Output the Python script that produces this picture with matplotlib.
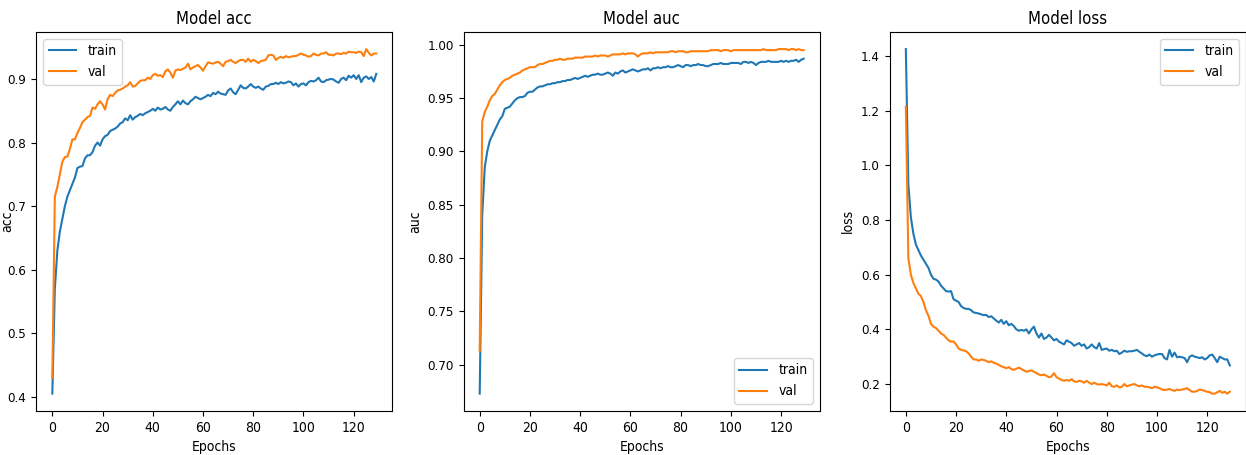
import matplotlib
matplotlib.use("Agg")
import matplotlib.pyplot as plt
import numpy as np

# reference text looks horizontally squeezed
plt.rcParams['font.family'] = 'DejaVu Sans'
plt.rcParams['font.stretch'] = 'condensed'

# values, one per epoch (0..129)
acc_train = [
    0.405, 0.57, 0.63, 0.66, 0.68, 0.70, 0.715, 0.725, 0.735, 0.745,
    0.76, 0.762, 0.763, 0.775, 0.78, 0.78, 0.785, 0.795, 0.80, 0.795,
    0.805, 0.81, 0.812, 0.818, 0.82, 0.822, 0.825, 0.83, 0.832, 0.838,
    0.835, 0.843, 0.836, 0.84, 0.842, 0.845, 0.843, 0.846, 0.848, 0.85,
    0.853, 0.85, 0.855, 0.852, 0.853, 0.856, 0.852, 0.85, 0.856, 0.86,
    0.865, 0.86, 0.866, 0.862, 0.86, 0.865, 0.868, 0.872, 0.87, 0.868,
    0.87, 0.872, 0.875, 0.873, 0.878, 0.876, 0.88, 0.877, 0.876, 0.875,
    0.882, 0.885, 0.879, 0.876, 0.883, 0.89, 0.886, 0.885, 0.888, 0.892,
    0.888, 0.886, 0.888, 0.885, 0.883, 0.888, 0.889, 0.892, 0.892, 0.894,
    0.892, 0.895, 0.893, 0.894, 0.896, 0.895, 0.89, 0.893, 0.888, 0.892,
    0.893, 0.89, 0.895, 0.897, 0.896, 0.898, 0.902, 0.896, 0.895, 0.898,
    0.899, 0.90, 0.899, 0.896, 0.894, 0.90, 0.902, 0.898, 0.905, 0.902,
    0.906, 0.90, 0.906, 0.895, 0.902, 0.904, 0.90, 0.903, 0.896, 0.908,
]
acc_val = [
    0.43, 0.715, 0.73, 0.75, 0.77, 0.777, 0.778, 0.79, 0.805, 0.805,
    0.815, 0.823, 0.832, 0.836, 0.84, 0.842, 0.855, 0.853, 0.86, 0.865,
    0.86, 0.852, 0.868, 0.875, 0.873, 0.878, 0.882, 0.883, 0.885, 0.888,
    0.89, 0.895, 0.888, 0.889, 0.893, 0.897, 0.898, 0.898, 0.902, 0.90,
    0.906, 0.908, 0.905, 0.906, 0.903, 0.912, 0.915, 0.91, 0.902, 0.913,
    0.915, 0.914, 0.916, 0.918, 0.924, 0.915, 0.918, 0.92, 0.922, 0.918,
    0.913, 0.92, 0.926, 0.925, 0.924, 0.926, 0.927, 0.924, 0.92, 0.927,
    0.928, 0.93, 0.927, 0.925, 0.928, 0.93, 0.93, 0.927, 0.932, 0.927,
    0.93, 0.928, 0.925, 0.928, 0.929, 0.93, 0.937, 0.938, 0.937, 0.93,
    0.933, 0.935, 0.933, 0.936, 0.934, 0.935, 0.936, 0.936, 0.938, 0.94,
    0.938, 0.937, 0.935, 0.936, 0.94, 0.938, 0.937, 0.94, 0.94, 0.942,
    0.938, 0.938, 0.937, 0.94, 0.94, 0.939, 0.941, 0.94, 0.943, 0.942,
    0.942, 0.941, 0.943, 0.942, 0.936, 0.947, 0.941, 0.937, 0.94, 0.94,
]
auc_train = [
    0.673, 0.84, 0.885, 0.90, 0.91, 0.915, 0.92, 0.925, 0.93, 0.933,
    0.94, 0.941, 0.942, 0.945, 0.948, 0.95, 0.951, 0.951, 0.952, 0.955,
    0.956, 0.956, 0.958, 0.96, 0.961, 0.961, 0.962, 0.963, 0.963, 0.964,
    0.964, 0.965, 0.965, 0.966, 0.966, 0.967, 0.967, 0.968, 0.969, 0.968,
    0.969, 0.97, 0.971, 0.97, 0.971, 0.972, 0.972, 0.973, 0.972, 0.972,
    0.973, 0.974, 0.973, 0.971, 0.974, 0.973, 0.975, 0.976, 0.974, 0.975,
    0.976, 0.977, 0.976, 0.975, 0.976, 0.977, 0.977, 0.978, 0.976, 0.978,
    0.978, 0.979, 0.978, 0.979, 0.979, 0.98, 0.979, 0.979, 0.98, 0.981,
    0.98, 0.979, 0.981, 0.981, 0.98, 0.981, 0.981, 0.982, 0.981, 0.981,
    0.98, 0.98, 0.981, 0.982, 0.982, 0.982, 0.983, 0.982, 0.982, 0.982,
    0.983, 0.983, 0.983, 0.983, 0.982, 0.984, 0.984, 0.983, 0.984, 0.983,
    0.981, 0.983, 0.984, 0.984, 0.984, 0.985, 0.984, 0.984, 0.984, 0.984,
    0.985, 0.984, 0.985, 0.984, 0.985, 0.985, 0.986, 0.984, 0.986, 0.987,
]
auc_val = [
    0.713, 0.928, 0.937, 0.942, 0.948, 0.952, 0.954, 0.958, 0.962, 0.965,
    0.967, 0.968, 0.969, 0.971, 0.972, 0.973, 0.974, 0.976, 0.977, 0.978,
    0.979, 0.979, 0.979, 0.981, 0.982, 0.982, 0.983, 0.984, 0.985, 0.985,
    0.986, 0.986, 0.987, 0.986, 0.986, 0.987, 0.987, 0.987, 0.988, 0.988,
    0.988, 0.988, 0.989, 0.989, 0.989, 0.989, 0.99, 0.989, 0.99, 0.99,
    0.99, 0.989, 0.99, 0.991, 0.991, 0.991, 0.991, 0.992, 0.991, 0.992,
    0.992, 0.992, 0.991, 0.989, 0.991, 0.992, 0.992, 0.992, 0.993, 0.992,
    0.993, 0.993, 0.993, 0.993, 0.993, 0.993, 0.994, 0.994, 0.993, 0.994,
    0.994, 0.994, 0.993, 0.993, 0.994, 0.994, 0.994, 0.994, 0.994, 0.994,
    0.994, 0.994, 0.995, 0.995, 0.995, 0.995, 0.994, 0.995, 0.995, 0.995,
    0.994, 0.995, 0.995, 0.995, 0.995, 0.995, 0.995, 0.995, 0.995, 0.995,
    0.995, 0.995, 0.995, 0.996, 0.995, 0.995, 0.995, 0.995, 0.995, 0.996,
    0.996, 0.996, 0.996, 0.995, 0.996, 0.996, 0.995, 0.996, 0.995, 0.995,
]
loss_train = [
    1.425, 0.93, 0.81, 0.75, 0.71, 0.69, 0.67, 0.655, 0.64, 0.625,
    0.60, 0.585, 0.582, 0.575, 0.56, 0.55, 0.54, 0.538, 0.54, 0.51,
    0.505, 0.50, 0.485, 0.478, 0.475, 0.475, 0.47, 0.462, 0.46, 0.458,
    0.455, 0.452, 0.453, 0.445, 0.448, 0.44, 0.432, 0.425, 0.435, 0.42,
    0.43, 0.415, 0.42, 0.412, 0.40, 0.395, 0.398, 0.395, 0.40, 0.385,
    0.40, 0.41, 0.385, 0.37, 0.385, 0.365, 0.37, 0.38, 0.37, 0.36,
    0.365, 0.355, 0.35, 0.345, 0.36, 0.355, 0.35, 0.34, 0.345, 0.35,
    0.34, 0.345, 0.33, 0.335, 0.345, 0.335, 0.33, 0.35, 0.325, 0.328,
    0.33, 0.322, 0.325, 0.32, 0.322, 0.31, 0.315, 0.322, 0.318, 0.32,
    0.32, 0.322, 0.325, 0.318, 0.312, 0.305, 0.302, 0.308, 0.30, 0.305,
    0.308, 0.31, 0.31, 0.295, 0.29, 0.325, 0.30, 0.315, 0.298, 0.30,
    0.298, 0.295, 0.28, 0.30, 0.305, 0.30, 0.298, 0.295, 0.298, 0.29,
    0.295, 0.305, 0.308, 0.295, 0.28, 0.30, 0.295, 0.29, 0.29, 0.268,
]
loss_val = [
    1.215, 0.66, 0.60, 0.57, 0.55, 0.53, 0.522, 0.50, 0.47, 0.45,
    0.42, 0.41, 0.405, 0.395, 0.385, 0.38, 0.37, 0.36, 0.355, 0.356,
    0.345, 0.33, 0.325, 0.323, 0.32, 0.312, 0.30, 0.29, 0.29, 0.285,
    0.29, 0.288, 0.285, 0.28, 0.283, 0.278, 0.275, 0.27, 0.265, 0.262,
    0.258, 0.262, 0.255, 0.252, 0.256, 0.26, 0.255, 0.25, 0.245, 0.248,
    0.25, 0.245, 0.24, 0.235, 0.232, 0.235, 0.23, 0.225, 0.228, 0.24,
    0.225, 0.22, 0.215, 0.212, 0.215, 0.212, 0.218, 0.21, 0.208, 0.212,
    0.21, 0.205, 0.212, 0.205, 0.20, 0.205, 0.20, 0.198, 0.20, 0.198,
    0.195, 0.205, 0.192, 0.19, 0.195, 0.188, 0.19, 0.20, 0.192, 0.195,
    0.198, 0.20, 0.195, 0.192, 0.195, 0.19, 0.19, 0.188, 0.185, 0.19,
    0.188, 0.185, 0.18, 0.178, 0.18, 0.182, 0.178, 0.175, 0.18, 0.178,
    0.18, 0.182, 0.185, 0.178, 0.172, 0.172, 0.175, 0.18, 0.178, 0.175,
    0.172, 0.17, 0.165, 0.165, 0.17, 0.175, 0.168, 0.172, 0.165, 0.172,
]
epochs = np.arange(len(acc_train))

panels = [
    ("acc", acc_train, acc_val, "upper left"),
    ("auc", auc_train, auc_val, "lower right"),
    ("loss", loss_train, loss_val, "upper right"),
]
lefts = [0.029, 0.372, 0.714]

fig = plt.figure(figsize=(12.46, 4.55), dpi=100)
for i, (left, (name, tr, va, loc)) in enumerate(zip(lefts, panels)):
    ax = fig.add_axes([left, 0.097, 0.286, 0.833])
    ax.plot(epochs, tr, label="train")
    ax.plot(epochs, va, label="val")
    ax.set_title("Model " + name)
    ax.set_ylabel(name)
    ax.set_xlabel("Epochs")
    ax.legend(loc=loc)
    ax.tick_params(axis="y", labelsize=9.5)
    if i == 0:
        # first panel sits at the figure edge, tuck its label in
        ax.yaxis.set_label_coords(-0.062, 0.5)

fig.savefig("out.png", dpi=100)
